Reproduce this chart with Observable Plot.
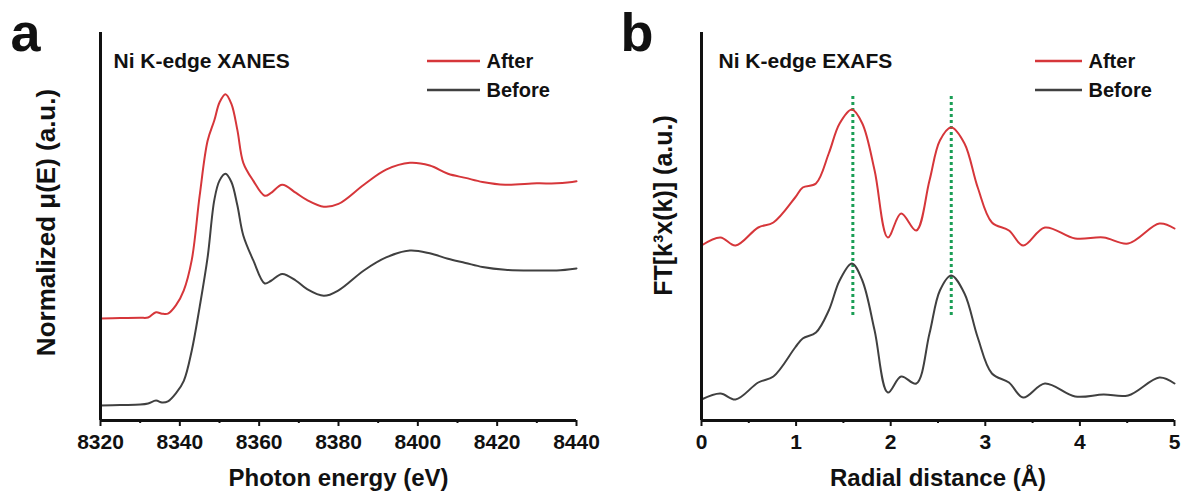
<!DOCTYPE html>
<html>
<head>
<meta charset="utf-8">
<script src="https://cdn.jsdelivr.net/npm/d3@7"></script>
<script src="https://cdn.jsdelivr.net/npm/@observablehq/plot@0.6"></script>
<style>
  body { margin: 0; background: #fff; }
  #wrap { display: flex; width: 1184px; height: 500px; background: #fff; }
  #wrap svg { overflow: visible; }
  #wrap svg g[aria-label="x-axis tick label"] text { font-weight: bold; }
</style>
</head>
<body>
<div id="wrap"></div>
<script>
// ---------- Panel a: Ni K-edge XANES ----------
const xanesEnergy = [8320, 8325, 8330, 8332, 8334, 8335.5, 8337, 8339, 8341, 8343, 8345, 8347, 8348.7, 8350, 8351.5, 8353, 8354.5, 8356, 8358.5, 8361.4, 8363, 8365.8, 8369.3, 8372, 8376.3, 8380, 8386.4, 8392, 8398, 8403, 8407.6, 8412, 8416.3, 8422, 8430, 8435, 8440];
const xanesAfter = [0.635, 0.638, 0.64, 0.642, 0.68, 0.67, 0.67, 0.73, 0.84, 1.06, 1.53, 1.93, 2.08, 2.21, 2.27, 2.20, 2.01, 1.77, 1.64, 1.53, 1.55, 1.61, 1.55, 1.50, 1.45, 1.47, 1.61, 1.72, 1.77, 1.75, 1.69, 1.66, 1.63, 1.61, 1.62, 1.62, 1.635];
const xanesBefore = [0, 0.004, 0.007, 0.015, 0.036, 0.022, 0.03, 0.088, 0.18, 0.40, 0.72, 1.08, 1.50, 1.64, 1.69, 1.63, 1.46, 1.24, 1.06, 0.89, 0.91, 0.96, 0.91, 0.85, 0.80, 0.84, 0.985, 1.08, 1.13, 1.11, 1.07, 1.04, 1.01, 0.99, 0.985, 0.985, 1.0];
const xanesMajorTicks = [8320, 8340, 8360, 8380, 8400, 8420, 8440];
const xanesMinorTicks = [8330, 8350, 8370, 8390, 8410, 8430];
const xanesXDomain = [8320, 8440];
const xanesYDomain = [-0.109, 2.72];

// ---------- Panel b: Ni K-edge EXAFS ----------
const exafsR = [0, 0.2, 0.36, 0.6, 0.76, 0.99, 1.07, 1.21, 1.345, 1.46, 1.59, 1.70, 1.83, 1.97, 2.11, 2.27, 2.41, 2.52, 2.64, 2.78, 2.92, 3.07, 3.25, 3.40, 3.63, 3.95, 4.25, 4.51, 4.84, 5.0];
const exafsAfter = [1.75, 1.83, 1.75, 1.93, 1.98, 2.23, 2.33, 2.37, 2.67, 2.97, 3.11, 2.97, 2.50, 1.83, 2.07, 1.90, 2.40, 2.80, 2.93, 2.77, 2.33, 1.98, 1.90, 1.75, 1.93, 1.82, 1.83, 1.77, 1.97, 1.92];
const exafsBefore = [0.21, 0.27, 0.21, 0.38, 0.44, 0.73, 0.82, 0.88, 1.10, 1.40, 1.57, 1.40, 0.90, 0.28, 0.44, 0.37, 0.87, 1.30, 1.45, 1.27, 0.83, 0.47, 0.38, 0.23, 0.37, 0.24, 0.26, 0.25, 0.43, 0.37];
const exafsMajorTicks = [0, 1, 2, 3, 4, 5];
const exafsMinorTicks = [0.5, 1.5, 2.5, 3.5, 4.5];
const exafsPeaks = [1.6, 2.64];
const exafsPeakSpan = [1.05, 3.25];
const exafsXDomain = [0, 5];
const exafsYDomain = [0, 3.88];

const seriesNames = ["After", "Before"];
const seriesColors = ["#d6363a", "#404040"];

const FONT = "'Liberation Sans', Arial, Helvetica, sans-serif";
const INK = "#111";
const LEGEND_ROWS = [61, 90];

function legendSwatches(lineX0, lineX1) {
  return (index, scales, values, dims) => {
    const g = d3.create("svg:g");
    seriesNames.forEach((name, i) => {
      g.append("line")
        .attr("x1", dims.marginLeft + lineX0)
        .attr("x2", dims.marginLeft + lineX1)
        .attr("y1", LEGEND_ROWS[i])
        .attr("y2", LEGEND_ROWS[i])
        .attr("stroke", seriesColors[i])
        .attr("stroke-width", 2.5);
    });
    return g.node();
  };
}

function panel(cfg) {
  const legendTexts = seriesNames.map((name, i) =>
    Plot.text([name], { text: d => d, frameAnchor: "top-left", dx: cfg.legX1 + 6, dy: LEGEND_ROWS[i] - 32, lineAnchor: "middle", textAnchor: "start", fontSize: 20, fontWeight: "bold", fill: INK })
  );
  return Plot.plot({
    width: cfg.width,
    height: 500,
    marginLeft: cfg.marginLeft,
    marginRight: cfg.marginRight,
    marginTop: 32,
    marginBottom: 80,
    x: { domain: cfg.xDomain },
    y: { domain: cfg.yDomain, axis: null },
    style: { fontFamily: FONT, background: "transparent", color: INK, overflow: "visible" },
    marks: [
      ...(cfg.extra || []),
      Plot.line(cfg.before, { x: cfg.xs, y: cfg.before, stroke: seriesColors[1], strokeWidth: 2, curve: "catmull-rom" }),
      Plot.line(cfg.after, { x: cfg.xs, y: cfg.after, stroke: seriesColors[0], strokeWidth: 2, curve: "catmull-rom" }),
      Plot.axisX({ ticks: cfg.major, tickSize: 6, tickPadding: 8, strokeWidth: 2, fontSize: 21, fontWeight: "bold", tickFormat: d => String(d), label: null }),
      Plot.axisX({ ticks: cfg.minor, tickSize: 3, strokeWidth: 2, tickFormat: () => "", label: null }),
      Plot.ruleY([cfg.yDomain[0]], { stroke: INK, strokeWidth: 3 }),
      Plot.ruleX([cfg.xDomain[0]], { stroke: INK, strokeWidth: 3 }),
      // panel letter
      Plot.text([cfg.letter], { text: d => d, frameAnchor: "top-left", dx: cfg.letterDx, dy: 18, lineAnchor: "bottom", textAnchor: "start", fontSize: 54, fontWeight: "bold", fill: INK }),
      // inset title
      Plot.text([cfg.title], { text: d => d, frameAnchor: "top-left", dx: cfg.titleDx, dy: 29, lineAnchor: "middle", textAnchor: "start", fontSize: 21, fontWeight: "bold", fill: INK }),
      // legend
      legendSwatches(cfg.legX0, cfg.legX1),
      ...legendTexts,
      // axis titles
      Plot.text([cfg.xLabel], { text: d => d, frameAnchor: "bottom", dy: 58, lineAnchor: "middle", fontSize: 24, fontWeight: "bold", fill: INK }),
      Plot.text([cfg.yLabel], { text: d => d, frameAnchor: "left", dx: cfg.yLabelDx, dy: cfg.yLabelDy, rotate: -90, lineAnchor: "middle", textAnchor: "middle", fontSize: cfg.yLabelSize, fontWeight: "bold", fill: INK })
    ]
  });
}

const wrap = document.getElementById("wrap");

const a = panel({
  width: 592, marginLeft: 100, marginRight: 16,
  xDomain: xanesXDomain, yDomain: xanesYDomain,
  xs: xanesEnergy, after: xanesAfter, before: xanesBefore,
  major: xanesMajorTicks, minor: xanesMinorTicks,
  letter: "a", letterDx: -90,
  title: "Ni K-edge XANES", titleDx: 13,
  legX0: 327, legX1: 380,
  xLabel: "Photon energy (eV)",
  yLabel: "Normalized \u03bc(E) (a.u.)", yLabelDx: -54, yLabelDy: -4, yLabelSize: 26
});

const b = panel({
  width: 592, marginLeft: 109, marginRight: 10,
  xDomain: exafsXDomain, yDomain: exafsYDomain,
  xs: exafsR, after: exafsAfter, before: exafsBefore,
  major: exafsMajorTicks, minor: exafsMinorTicks,
  letter: "b", letterDx: -81,
  title: "Ni K-edge EXAFS", titleDx: 17,
  legX0: 334, legX1: 381,
  xLabel: "Radial distance (\u00c5)",
  yLabel: "FT[k\u00b3x(k)] (a.u.)", yLabelDx: -38, yLabelDy: -21, yLabelSize: 25,
  extra: [
    Plot.ruleX(exafsPeaks, { y1: exafsPeakSpan[0], y2: exafsPeakSpan[1], stroke: "#1a9e55", strokeWidth: 3, strokeDasharray: "3,3" })
  ]
});

wrap.append(a, b);
</script>
</body>
</html>
